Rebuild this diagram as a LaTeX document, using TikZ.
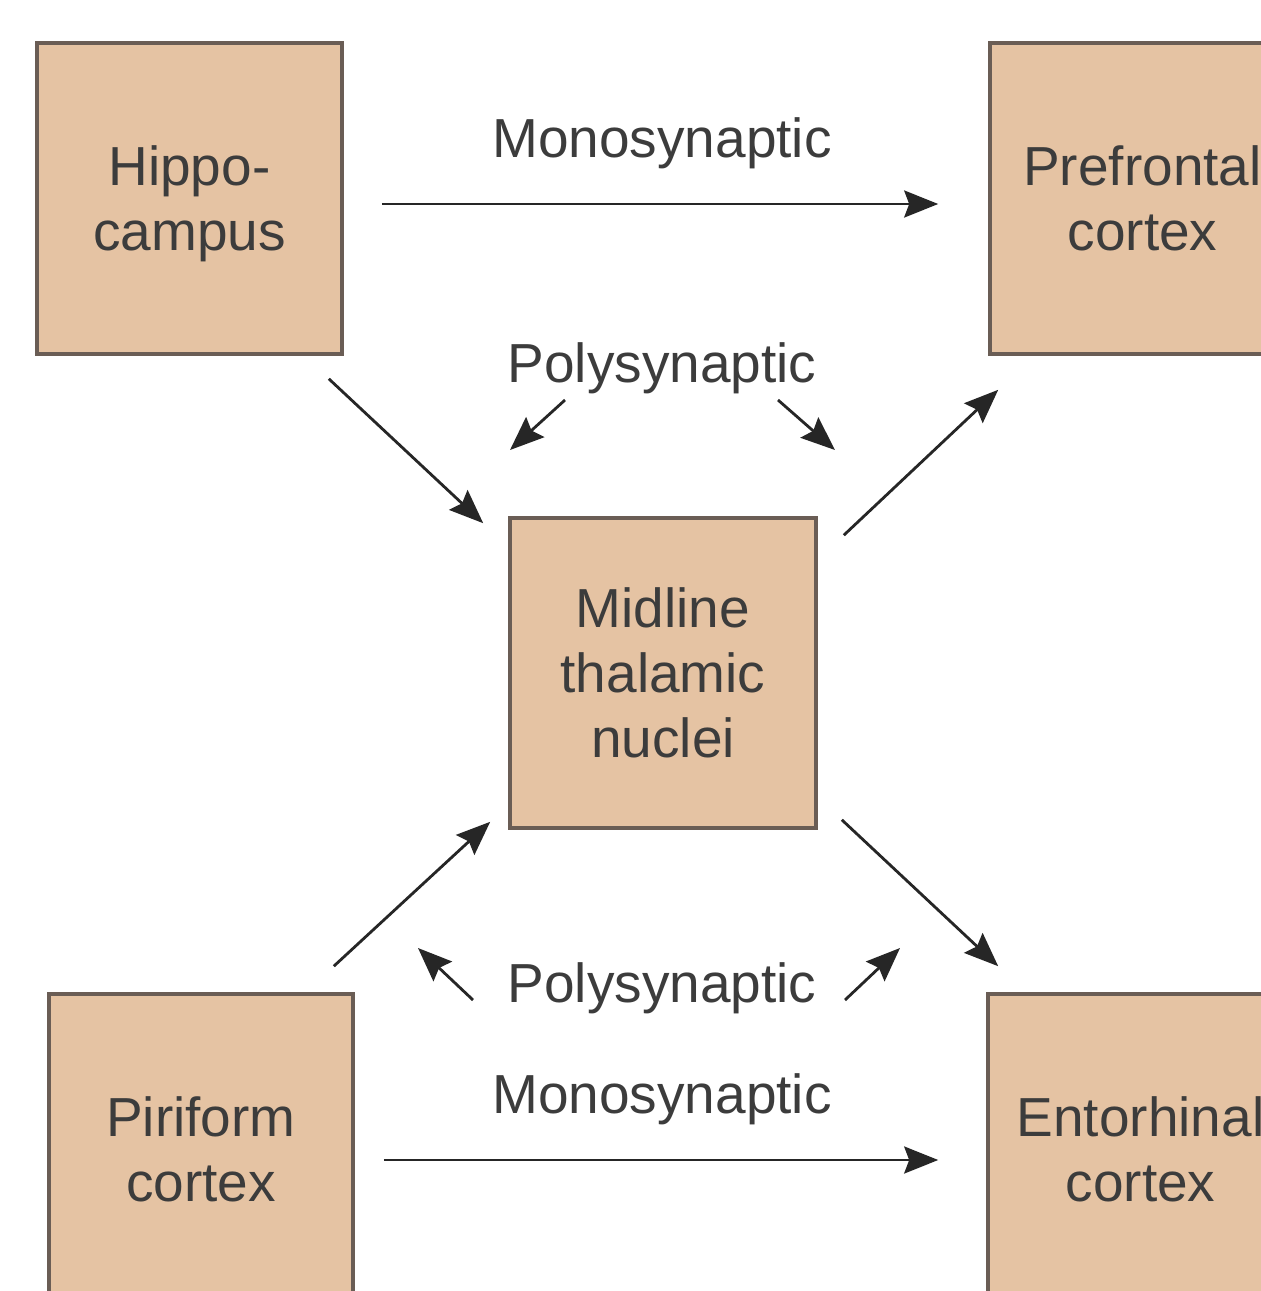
\documentclass[tikz,border=0pt]{standalone}
\usepackage{fontspec}
\setmainfont{Liberation Sans}
\usetikzlibrary{calc,arrows.meta}
\definecolor{boxfill}{HTML}{E5C3A3}
\definecolor{boxline}{HTML}{6A5D55}
\definecolor{txt}{HTML}{3C3C3C}
\begin{document}
\begin{tikzpicture}[x=0.5pt,y=-0.5pt,
  region/.style={draw=boxline, line width=1.8pt, fill=boxfill,
    minimum width=152.5pt, minimum height=155.5pt, inner sep=0pt,
    align=center, font=\fontsize{27.5}{32.5}\selectfont, text=txt},
  lbl/.style={anchor=base, font=\fontsize{27.5}{32.5}\selectfont, text=txt, inner sep=0pt},
  conn/.style={line width=1.4pt, draw=black!85,
    -{Stealth[length=17pt,width=13.5pt,inset=2.5pt]}}]
\useasboundingbox (0,0) rectangle (1261,1291);
\clip (0,0) rectangle (1261,1291);
\fill[white] (0,0) rectangle (1261,1291);

% regions
\node[region, text depth=0pt] (hip) at (189.5,198.5) {Hippo-\\campus};
\node[region] (pfc) at (1142.5,198.5) {Prefrontal\\cortex};
\node[region, minimum width=153pt, minimum height=155pt] (mid) at (663,673) {Midline\\thalamic\\nuclei};
\node[region, minimum width=152pt] (pir) at (201,1149.5) {Piriform\\cortex};
\node[region] (ent) at (1140.5,1149.5) {Entorhinal\\cortex};

% labels
\node[lbl] (mono1) at (662,157) {Monosynaptic};
\node[lbl] (poly1) at (662,382) {Polysynaptic};
\node[lbl] (poly2) at (662,1002) {Polysynaptic};
\node[lbl] (mono2) at (662,1113) {Monosynaptic};

% monosynaptic arrows
\draw[conn] ($(hip.east)+(38,5.5)$) -- ($(pfc.west)+(-50,5.5)$);
\draw[conn] ($(pir.east)+(29,10.5)$) -- ($(ent.west)+(-48,10.5)$);

% diagonal arrows via midline thalamus
\draw[conn] ($(hip.south east)+(-15,23)$) -- ($(mid.north west)+(-25,7)$);
\draw[conn] ($(mid.north east)+(26,19)$) -- ($(pfc.south west)+(10,34)$);
\draw[conn] ($(pir.north east)+(-21,-26)$) -- ($(mid.south west)+(-18,-8)$);
\draw[conn] ($(mid.south east)+(24,-10)$) -- ($(ent.north west)+(12,-26)$);

% small polysynaptic arrows
\draw[conn] ($(poly1.base)+(-97,18)$) -- ($(poly1.base)+(-152,68)$);
\draw[conn] ($(poly1.base)+(116,18)$) -- ($(poly1.base)+(173,68)$);
\draw[conn] ($(poly2.base)+(-189,-2)$) -- ($(poly2.base)+(-244,-54)$);
\draw[conn] ($(poly2.base)+(183,-2)$) -- ($(poly2.base)+(238,-54)$);
\end{tikzpicture}
\end{document}
